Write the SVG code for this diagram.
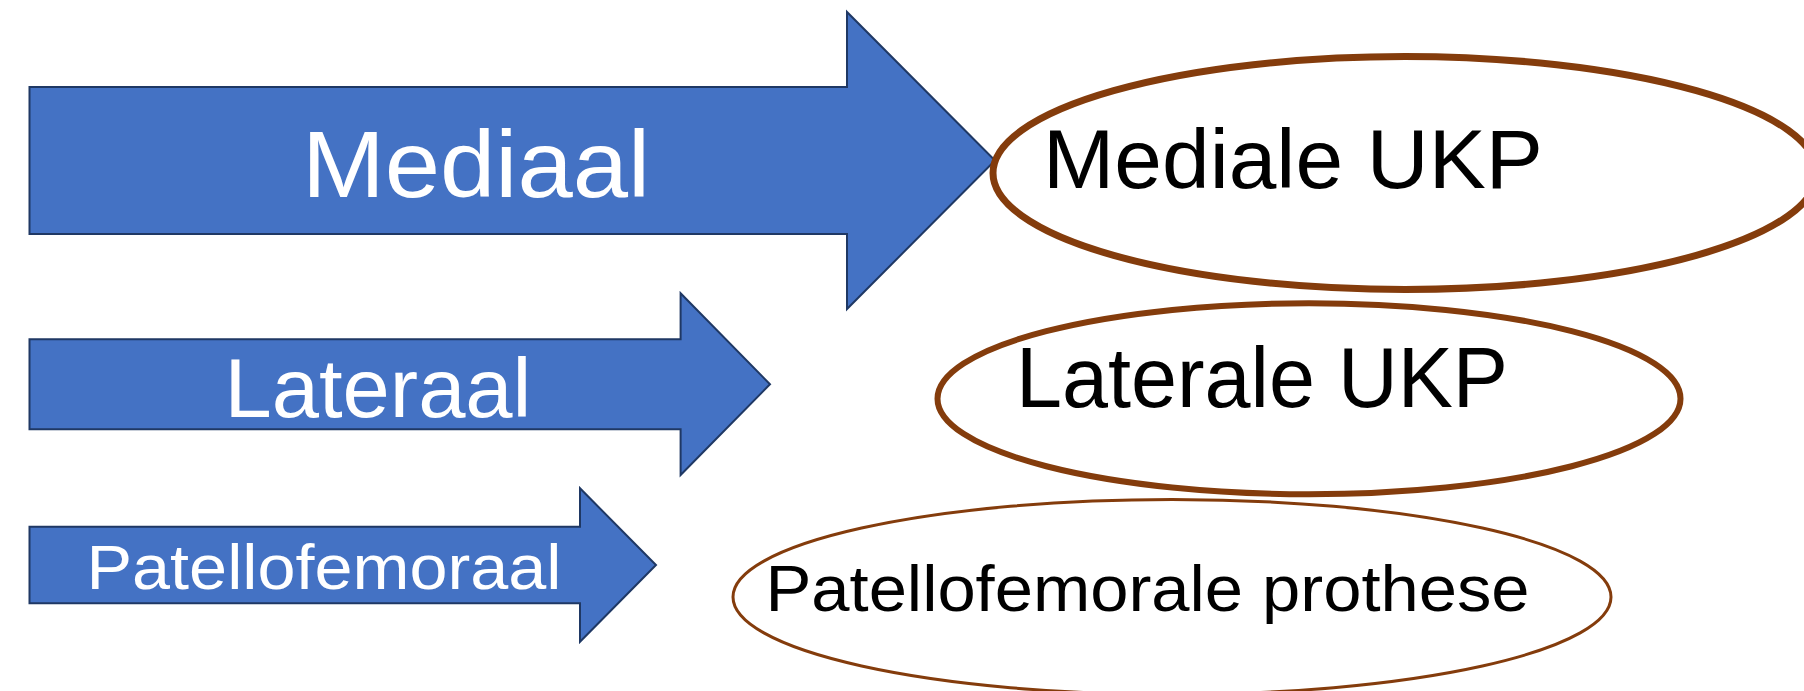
<svg xmlns="http://www.w3.org/2000/svg" width="1804" height="691" viewBox="0 0 1804 691">
  <style>
    .arrow { fill: #4472C4; stroke: #1F3864; stroke-width: 2; stroke-linejoin: miter; }
    .oval { fill: none; stroke: #843C0C; }
    .lbl { font-family: "Liberation Sans", Arial, sans-serif; }
    .white { fill: #FFFFFF; }
    .black { fill: #000000; }
  </style>
  <rect width="1804" height="691" fill="#FFFFFF"/>
  <g id="connectors"></g>
  <g id="arrow-mediaal">
    <polygon class="arrow" points="29.5,87 847,87 847,12 995,160.5 847,309 847,234 29.5,234"/>
    <text class="lbl white" x="302" y="197" font-size="94" textLength="348" lengthAdjust="spacingAndGlyphs">Mediaal</text>
  </g>
  <g id="arrow-lateraal">
    <polygon class="arrow" points="29.5,339.3 680.6,339.3 680.6,293.3 770,384.3 680.6,475 680.6,429.3 29.5,429.3"/>
    <text class="lbl white" x="224.5" y="416.7" font-size="84" textLength="307" lengthAdjust="spacingAndGlyphs">Lateraal</text>
  </g>
  <g id="arrow-patellofemoraal">
    <polygon class="arrow" points="29.5,526.7 580,526.7 580,488.3 656,565 580,641.7 580,603.3 29.5,603.3"/>
    <text class="lbl white" x="86.5" y="589.3" font-size="63" textLength="475" lengthAdjust="spacingAndGlyphs">Patellofemoraal</text>
  </g>
  <g id="oval-mediale-ukp">
    <ellipse class="oval" cx="1405" cy="173" rx="412" ry="116.5" stroke-width="7"/>
    <text class="lbl black" x="1043" y="188.3" font-size="84" textLength="500" lengthAdjust="spacingAndGlyphs">Mediale UKP</text>
  </g>
  <g id="oval-laterale-ukp">
    <ellipse class="oval" cx="1309" cy="398.7" rx="371.5" ry="95.5" stroke-width="6"/>
    <text class="lbl black" x="1016" y="406.7" font-size="86" textLength="492" lengthAdjust="spacingAndGlyphs">Laterale UKP</text>
  </g>
  <g id="oval-patellofemorale-prothese">
    <ellipse class="oval" cx="1172" cy="597" rx="439" ry="97.5" stroke-width="3"/>
    <text class="lbl black" x="765.5" y="610.7" font-size="64" textLength="764" lengthAdjust="spacingAndGlyphs">Patellofemorale prothese</text>
  </g>
</svg>
